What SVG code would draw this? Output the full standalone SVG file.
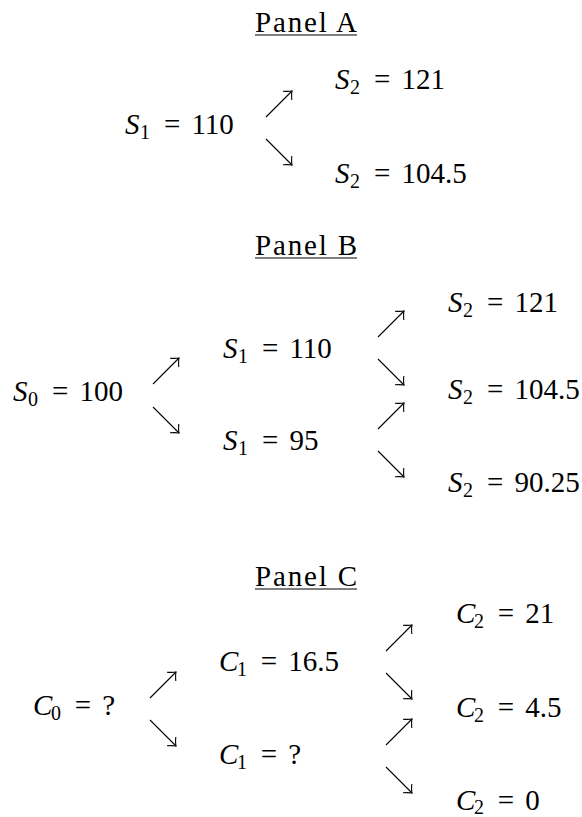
<svg xmlns="http://www.w3.org/2000/svg" width="582" height="817" viewBox="0 0 582 817">
<style>
text{font-family:'Liberation Serif',serif;font-size:29px;fill:#000}
.i{font-style:italic}
.sub{font-size:20px}
.ul{stroke:#000;stroke-width:1.2}
#connectors path{stroke:#000;stroke-width:1.1;fill:none;marker-end:url(#ah)}
</style>
<defs>
<marker id="ah" markerUnits="userSpaceOnUse" viewBox="-8 -8 10 16" refX="0" refY="0" markerWidth="10" markerHeight="16" orient="auto">
<path d="M -6.5,-6.2 Q -2.5,-1.5 0,0 Q -2.5,1.5 -6.5,6.2" fill="none" stroke="#000" stroke-width="1.1"/>
</marker>
</defs>
<rect width="582" height="817" fill="#fff"/>

<!-- Panel A -->
<g id="titleA"><text x="255" y="32" textLength="102" lengthAdjust="spacing">Panel A</text><line class="ul" x1="255" y1="35" x2="357" y2="35"/></g>
<g id="A_S1"><text y="134"><tspan class="i" x="125">S</tspan><tspan class="sub" x="140" dy="4.5">1</tspan><tspan x="163.9" dy="-4.5">=</tspan><tspan x="191.4">110</tspan></text></g>
<g id="A_S2u"><text y="89"><tspan class="i" x="335">S</tspan><tspan class="sub" x="350" dy="4.5">2</tspan><tspan x="373.9" dy="-4.5">=</tspan><tspan x="401.4">121</tspan></text></g>
<g id="A_S2d"><text y="183"><tspan class="i" x="335">S</tspan><tspan class="sub" x="350" dy="4.5">2</tspan><tspan x="373.9" dy="-4.5">=</tspan><tspan x="401.4">104.5</tspan></text></g>

<!-- Panel B -->
<g id="titleB"><text x="255" y="255" textLength="102" lengthAdjust="spacing">Panel B</text><line class="ul" x1="255" y1="258" x2="357" y2="258"/></g>
<g id="B_S0"><text y="401"><tspan class="i" x="13">S</tspan><tspan class="sub" x="28" dy="4.5">0</tspan><tspan x="51.9" dy="-4.5">=</tspan><tspan x="79.4">100</tspan></text></g>
<g id="B_S1u"><text y="358"><tspan class="i" x="223">S</tspan><tspan class="sub" x="238" dy="4.5">1</tspan><tspan x="261.9" dy="-4.5">=</tspan><tspan x="289.4">110</tspan></text></g>
<g id="B_S1d"><text y="450"><tspan class="i" x="223">S</tspan><tspan class="sub" x="238" dy="4.5">1</tspan><tspan x="261.9" dy="-4.5">=</tspan><tspan x="289.4">95</tspan></text></g>
<g id="B_S2uu"><text y="312"><tspan class="i" x="448">S</tspan><tspan class="sub" x="463" dy="4.5">2</tspan><tspan x="486.9" dy="-4.5">=</tspan><tspan x="514.4">121</tspan></text></g>
<g id="B_S2ud"><text y="399"><tspan class="i" x="448">S</tspan><tspan class="sub" x="463" dy="4.5">2</tspan><tspan x="486.9" dy="-4.5">=</tspan><tspan x="514.4">104.5</tspan></text></g>
<g id="B_S2dd"><text y="492"><tspan class="i" x="448">S</tspan><tspan class="sub" x="463" dy="4.5">2</tspan><tspan x="486.9" dy="-4.5">=</tspan><tspan x="514.4">90.25</tspan></text></g>

<!-- Panel C -->
<g id="titleC"><text x="255" y="586" textLength="102" lengthAdjust="spacing">Panel C</text><line class="ul" x1="255" y1="589" x2="357" y2="589"/></g>
<g id="C_C0"><text y="715"><tspan class="i" x="33">C</tspan><tspan class="sub" x="51" dy="4.5">0</tspan><tspan x="74.8" dy="-4.5">=</tspan><tspan x="102.3">?</tspan></text></g>
<g id="C_C1u"><text y="671"><tspan class="i" x="219">C</tspan><tspan class="sub" x="237" dy="4.5">1</tspan><tspan x="260.8" dy="-4.5">=</tspan><tspan x="288.3">16.5</tspan></text></g>
<g id="C_C1d"><text y="764"><tspan class="i" x="219">C</tspan><tspan class="sub" x="237" dy="4.5">1</tspan><tspan x="260.8" dy="-4.5">=</tspan><tspan x="288.3">?</tspan></text></g>
<g id="C_C2uu"><text y="623"><tspan class="i" x="456">C</tspan><tspan class="sub" x="474" dy="4.5">2</tspan><tspan x="497.8" dy="-4.5">=</tspan><tspan x="525.3">21</tspan></text></g>
<g id="C_C2ud"><text y="717"><tspan class="i" x="456">C</tspan><tspan class="sub" x="474" dy="4.5">2</tspan><tspan x="497.8" dy="-4.5">=</tspan><tspan x="525.3">4.5</tspan></text></g>
<g id="C_C2dd"><text y="810"><tspan class="i" x="456">C</tspan><tspan class="sub" x="474" dy="3.5">2</tspan><tspan x="497.8" dy="-3.5">=</tspan><tspan x="525.3">0</tspan></text></g>

<g id="connectors">
<path d="M266,117 L292,91"/>
<path d="M266,139 L292,165"/>
<path d="M153,384 L179,358"/>
<path d="M153,407 L179,433"/>
<path d="M378,337 L404,311"/>
<path d="M378,359 L404,385"/>
<path d="M378,429 L404,403"/>
<path d="M378,451 L404,477"/>
<path d="M150,698 L176,672"/>
<path d="M150,720 L176,746"/>
<path d="M386,651 L412,625"/>
<path d="M386,673 L412,699"/>
<path d="M386,745 L412,719"/>
<path d="M386,767 L412,793"/>
</g>
</svg>
